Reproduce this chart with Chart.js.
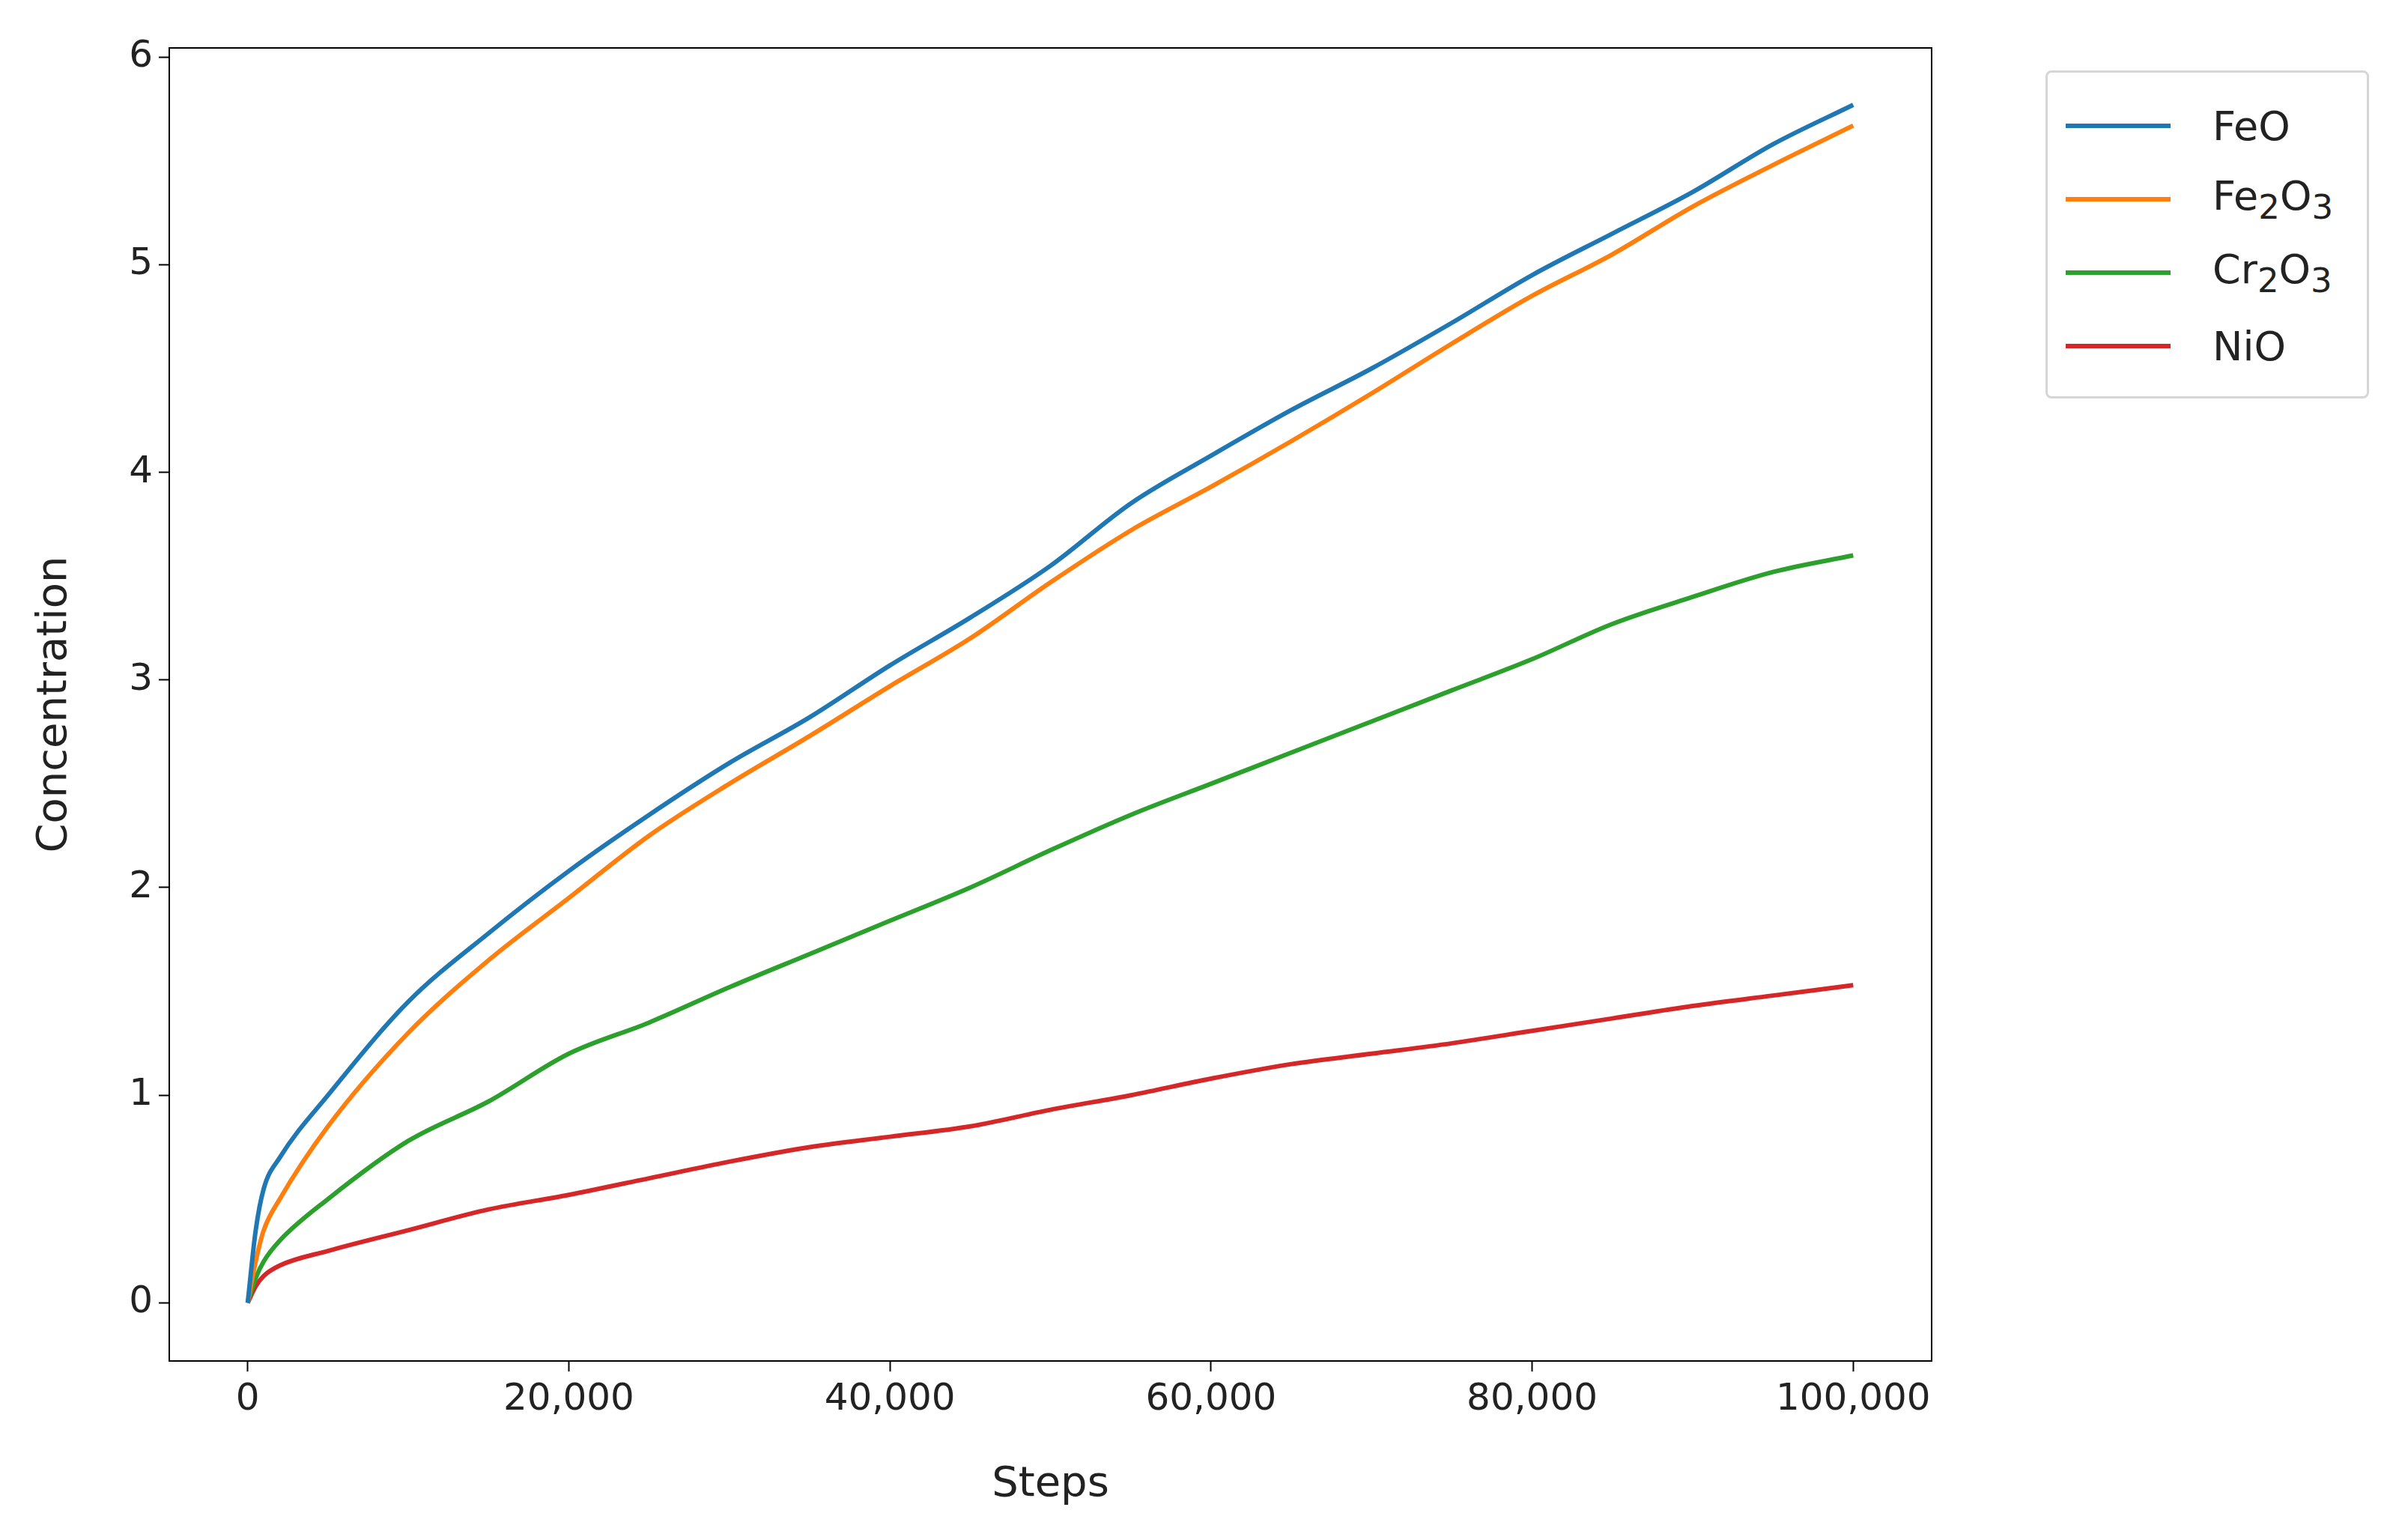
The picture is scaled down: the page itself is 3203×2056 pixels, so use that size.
<!DOCTYPE html>
<html lang="en">
<head>
<meta charset="UTF-8">
<title>Concentration vs Steps</title>
<script src="https://cdn.jsdelivr.net/npm/chart.js"></script>
<style>
  body, html { margin: 0; height: 100%; background: #fff; font-family: "DejaVu Sans", sans-serif; }
  #wrap { position: relative; width: 3203px; height: 2056px; }
  #legend { position: absolute; left: 2731px; top: 94px; width: 432px; height: 438px; box-sizing: border-box;
            border: 3px solid #d6d6d6; border-radius: 8px; background: #fff; padding: 22px 0 0 24px; }
  .item { display: flex; align-items: center; height: 98px; font-size: 54px; color: #222; }
  .swatch { width: 140px; height: 6px; margin-right: 56px; }
</style>
</head>
<body>
<div id="wrap">
  <canvas id="chart" width="3203" height="2056"></canvas>
  <div id="legend"></div>
</div>
<script>
const steps = [0, 500, 1000, 2000, 5000, 10000, 15000, 20000, 25000, 30000, 35000, 40000, 45000, 50000,
  55000, 60000, 65000, 70000, 75000, 80000, 85000, 90000, 95000, 100000];
const feo = [0, 0.35, 0.55, 0.7, 1.0, 1.45, 1.78, 2.08, 2.35, 2.6, 2.82, 3.07, 3.3, 3.55, 3.85, 4.08, 4.3, 4.5, 4.72, 4.95, 5.15, 5.35, 5.58, 5.77];
const fe2o3 = [0, 0.2, 0.35, 0.5, 0.85, 1.3, 1.65, 1.95, 2.25, 2.5, 2.73, 2.97, 3.2, 3.47, 3.72, 3.93, 4.15, 4.38, 4.62, 4.85, 5.05, 5.28, 5.48, 5.67];
const cr2o3 = [0, 0.12, 0.2, 0.3, 0.5, 0.78, 0.97, 1.2, 1.35, 1.52, 1.68, 1.84, 2.0, 2.18, 2.35, 2.5, 2.65, 2.8, 2.95, 3.1, 3.27, 3.4, 3.52, 3.6];
const nio = [0, 0.08, 0.13, 0.18, 0.25, 0.35, 0.45, 0.52, 0.6, 0.68, 0.75, 0.8, 0.85, 0.93, 1.0, 1.08, 1.15, 1.2, 1.25, 1.31, 1.37, 1.43, 1.48, 1.53];
const xTicks = [0, 20000, 40000, 60000, 80000, 100000];
const yTicks = [0, 1, 2, 3, 4, 5, 6];

const series = [
  { label: 'FeO', html: 'FeO', data: feo, color: '#1f77b4' },
  { label: 'Fe₂O₃', html: 'Fe<sub>2</sub>O<sub>3</sub>', data: fe2o3, color: '#ff7f0e' },
  { label: 'Cr₂O₃', html: 'Cr<sub>2</sub>O<sub>3</sub>', data: cr2o3, color: '#2ca02c' },
  { label: 'NiO', html: 'NiO', data: nio, color: '#d62728' }
];

document.getElementById('legend').innerHTML = series.map(s =>
  `<div class="item"><div class="swatch" style="background:${s.color}"></div><span>${s.html}</span></div>`).join('');

const tickFont = { family: 'DejaVu Sans', size: 50 };
const axisCommon = {
  border: { display: true, color: '#000', width: 2 },
  grid: { display: true, drawOnChartArea: false, drawTicks: true, tickLength: 14, tickWidth: 2, tickColor: '#000' },
};

// full box around the plot area
const frame = {
  id: 'frame',
  afterDraw(chart) {
    const { ctx, chartArea: a } = chart;
    ctx.save();
    ctx.strokeStyle = '#000';
    ctx.lineWidth = 2;
    ctx.strokeRect(a.left, a.top, a.right - a.left, a.bottom - a.top);
    ctx.restore();
  }
};

new Chart(document.getElementById('chart'), {
  type: 'line',
  data: {
    datasets: series.map(s => ({
      label: s.label,
      data: steps.map((x, i) => ({ x: x, y: s.data[i] })),
      borderColor: s.color,
      borderWidth: 6,
      pointRadius: 0,
      cubicInterpolationMode: 'monotone',
      fill: false
    }))
  },
  options: {
    responsive: false,
    animation: false,
    layout: { padding: { top: 64, right: 624, left: 40, bottom: 40 } },
    plugins: { legend: { display: false }, tooltip: { enabled: false } },
    scales: {
      x: {
        ...axisCommon,
        type: 'linear',
        min: -4885, max: 104885,
        afterBuildTicks: ax => { ax.ticks = xTicks.map(v => ({ value: v })); },
        afterFit: ax => { ax.height = 199; },
        ticks: { font: tickFont, color: '#222', maxRotation: 0, padding: 8,
                 callback: v => v.toLocaleString('en-US') },
        title: { display: true, text: 'Steps', font: { family: 'DejaVu Sans', size: 56 }, color: '#222', padding: 0 }
      },
      y: {
        ...axisCommon,
        min: -0.28, max: 6.044,
        afterBuildTicks: ax => { ax.ticks = yTicks.map(v => ({ value: v })); },
        afterFit: ax => { ax.width = 186; },
        ticks: { font: tickFont, color: '#222', padding: 8 },
        title: { display: true, text: 'Concentration', font: { family: 'DejaVu Sans', size: 56 }, color: '#222', padding: 0 }
      }
    }
  },
  plugins: [frame]
});
</script>
</body>
</html>
